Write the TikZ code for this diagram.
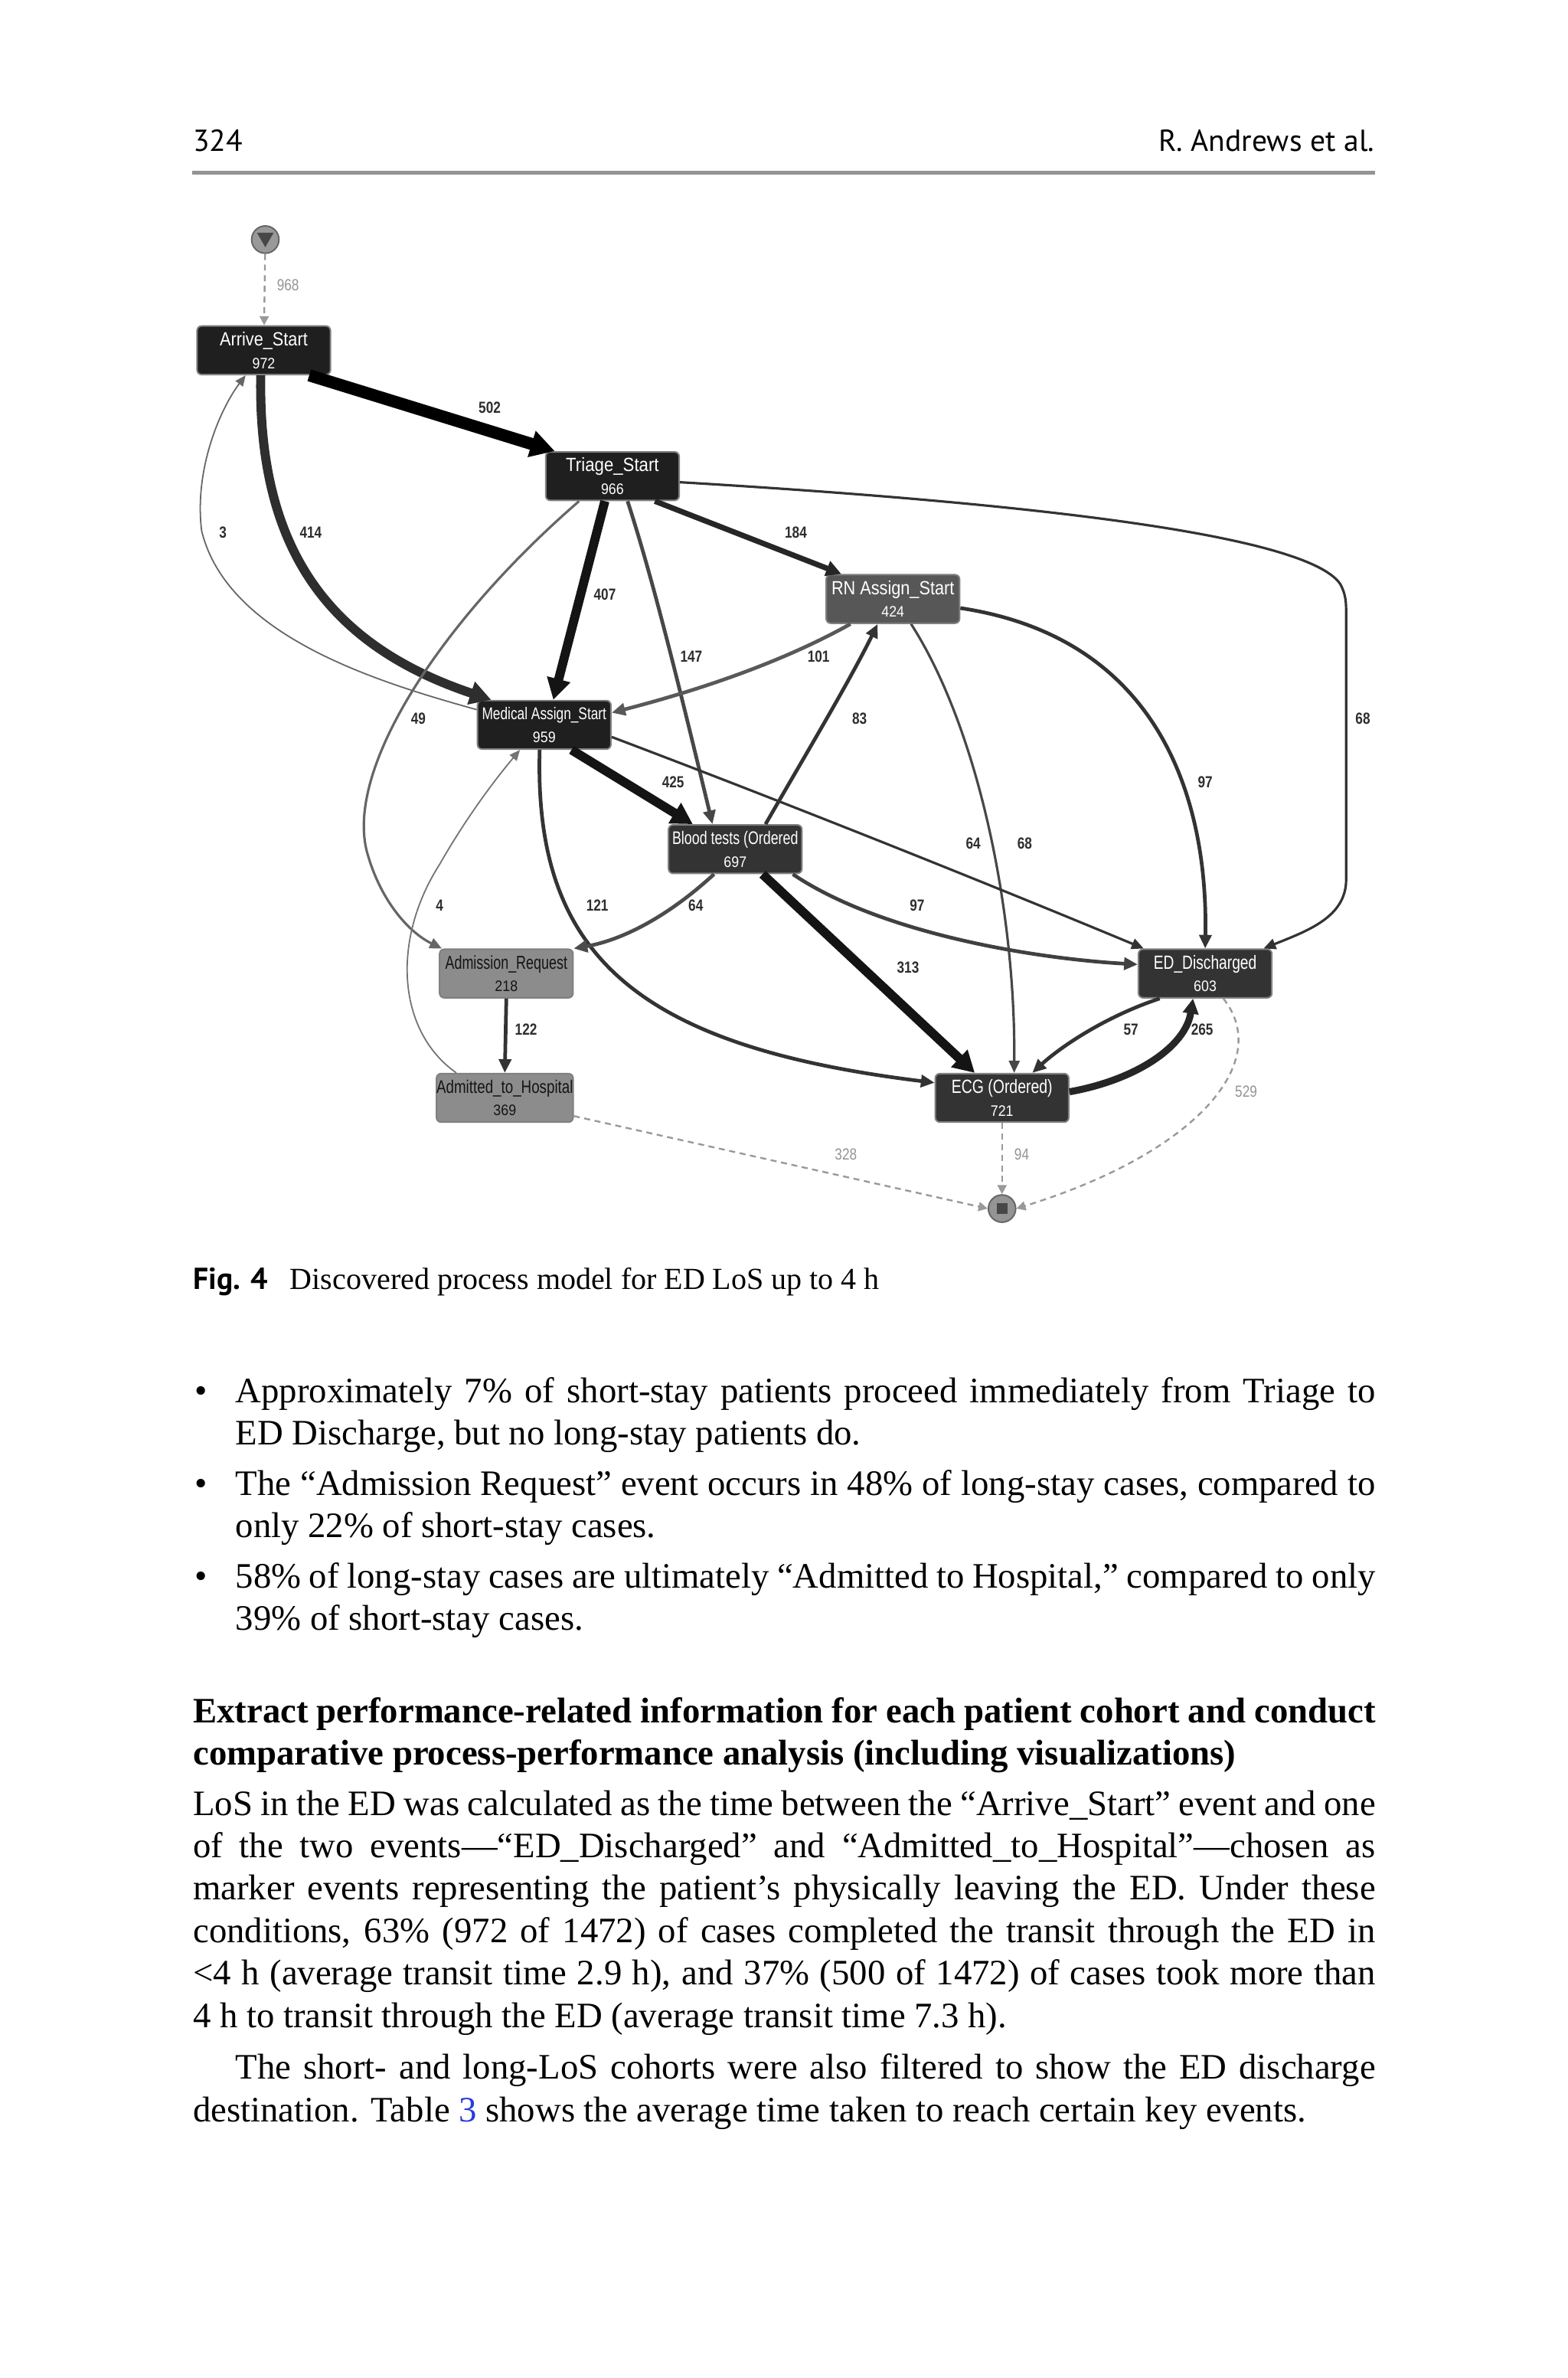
\documentclass[tikz,border=0pt]{standalone}
\usepackage{fontspec}
\setmainfont{Liberation Serif}
\newfontfamily\hdfont{PT Sans}
\newfontfamily\diagfont{Liberation Sans}
\usepackage{graphicx}
\usetikzlibrary{arrows.meta,calc}
\definecolor{linkblue}{RGB}{40,60,220}
\newcommand\nmtxt[3]{\scalebox{#1}[1]{\fontsize{#2}{#2}\selectfont #3}}
\newcommand\lbtxt[1]{\scalebox{0.82}[1]{#1}}
\begin{document}
\begin{tikzpicture}[x=0.5pt,y=-0.5pt,
 box/.style={rectangle, rounded corners=1.5pt, draw=black!50, line width=0.5pt, minimum width=44pt, minimum height=16pt, inner sep=0pt, align=center, text=white, font=\diagfont\fontsize{5}{7.5}\selectfont},
 darkbox/.style={box, fill=black!88},
 midbox/.style={box, fill=black!80},
 rnbox/.style={box, fill=black!66},
 lightbox/.style={box, fill=black!45, text=black!92},
 lab/.style={inner sep=0pt, font=\diagfont\bfseries\fontsize{5.3}{6}\selectfont, text=black!82},
 glab/.style={inner sep=0pt, font=\diagfont\fontsize{5.3}{6}\selectfont, text=black!42},
 e1/.style={line width=0.45pt, draw=black!60, -{Triangle[length=3.5pt,width=3pt]}},
 e2/.style={line width=0.8pt, draw=black!72, -{Triangle[length=4pt,width=3.5pt]}},
 e3/.style={line width=1.2pt, draw=black!80, -{Triangle[length=4.5pt,width=4pt]}},
 e4/.style={line width=1.8pt, draw=black!85, -{Triangle[length=5pt,width=5pt]}},
 e5/.style={line width=3pt, draw=black!92, -{Triangle[length=7pt,width=7.5pt]}},
 e6/.style={line width=4pt, draw=black, -{Triangle[length=8pt,width=8.5pt]}},
 dashedge/.style={line width=0.6pt, draw=black!40, dash pattern=on 2pt off 1.5pt, -{Triangle[length=3pt,width=3pt]}},
 txt/.style={anchor=base west, inner sep=0pt, font=\fontsize{11.8}{14}\selectfont},
 hdr/.style={inner sep=0pt, font=\hdfont\fontsize{10}{12}\selectfont}
]
\fill[white] (0,0) rectangle (1034.3,1568.2);
\useasboundingbox (0,0) rectangle (1034.3,1568.2);

% header
\node[hdr, anchor=base west] (pagenum) at (127,100) {324};
\node[hdr, anchor=base east] (authors) at (907,100) {R. Andrews et al.};
\draw[line width=1.25pt, black!42] (127,114) -- (907,114);

% process model nodes
\node[circle, draw=black!60, fill=black!40, line width=0.5pt, minimum size=9pt, inner sep=0pt] (start) at (175,158) {};
\fill[black!72] (169.5,153.5) -- (180.5,153.5) -- (175,163) -- cycle;
\node[darkbox] (arrive) at (174,231) {\nmtxt{0.87}{6.3}{Arrive\_Start}\\\nmtxt{0.9}{5}{972}};
\node[darkbox] (triage) at (404,314) {\nmtxt{0.89}{6.3}{Triage\_Start}\\\nmtxt{0.9}{5}{966}};
\node[rnbox] (rn) at (589,395) {\nmtxt{0.87}{6.3}{RN Assign\_Start}\\\nmtxt{0.9}{5}{424}};
\node[darkbox] (medical) at (359,478) {\nmtxt{0.78}{5.6}{Medical Assign\_Start}\\\nmtxt{0.9}{5}{959}};
\node[midbox] (blood) at (485,560) {\nmtxt{0.75}{6}{Blood tests (Ordered}\\\nmtxt{0.9}{5}{697}};
\node[lightbox] (admreq) at (334,642) {\nmtxt{0.73}{6.2}{Admission\_Request}\\\nmtxt{0.9}{5}{218}};
\node[midbox] (ed) at (795,642) {\nmtxt{0.77}{6.3}{ED\_Discharged}\\\nmtxt{0.9}{5}{603}};
\node[lightbox] (admitted) at (333,724) {\nmtxt{0.79}{6}{Admitted\_to\_Hospital}\\\nmtxt{0.9}{5}{369}};
\node[midbox] (ecg) at (661,724) {\nmtxt{0.78}{6.3}{ECG (Ordered)}\\\nmtxt{0.9}{5}{721}};
\node[circle, draw=black!60, fill=black!42, line width=0.5pt, minimum size=9pt, inner sep=0pt] (stop) at (661,797) {};
\fill[black!72] (657.5,793.5) rectangle (664.5,800.5);

% connectors
\draw[dashedge] (start) -- (arrive);
\draw[e6] ($(arrive.south)+(30,0)$) -- ($(triage.north)+(-38,0)$);
\draw[e5, draw=black!82] ($(arrive.south)+(-2,0)$) .. controls (170,360) and (215,425) .. ($(medical.north)+(-35,0)$);
\draw[e1] ($(medical.west)+(0,-10)$) .. controls (250,450) and (150,420) .. (133,350) .. controls (128,310) and (145,270) .. ($(arrive.south)+(-12,0)$);
\draw[e5] ($(triage.south)+(-5,0)$) -- ($(medical.north)+(6,0)$);
\draw[e4] ($(triage.south)+(28,0)$) -- ($(rn.north)+(-34,0)$);
\draw[e3, draw=black!72] ($(triage.south)+(10,0)$) .. controls (430,380) and (445,440) .. ($(blood.north)+(-15,0)$);
\draw[e2, draw=black!60] ($(triage.south)+(-22,0)$) .. controls (290,410) and (225,510) .. (243,565) .. controls (252,595) and (270,615) .. ($(admreq.north west)+(2,0)$);
\draw[e2, draw=black!80] ($(triage.east)+(0,4)$) .. controls (650,330) and (860,350) .. (884,385) .. controls (888,392) and (888,398) .. (888,405) -- (888,580) .. controls (888,605) and (862,614) .. ($(ed.north east)+(-6,0)$);
\draw[e3, draw=black!65] ($(rn.south)+(-28,0)$) .. controls (510,440) and (450,458) .. ($(medical.east)+(0,-8)$);
\draw[e3] ($(blood.north)+(20,0)$) .. controls (530,500) and (560,450) .. ($(rn.south)+(-10,0)$);
\draw[e2] ($(rn.south)+(12,0)$) .. controls (645,480) and (670,600) .. ($(ecg.north)+(8,0)$);
\draw[e3] ($(rn.east)+(0,6)$) .. controls (760,420) and (797,520) .. (ed.north);
\draw[e5] ($(medical.south)+(18,0)$) -- ($(blood.north)+(-28,0)$);
\draw[e2, draw=black!80] ($(medical.east)+(0,8)$) .. controls (520,530) and (650,582) .. ($(ed.north west)+(4,0)$);
\draw[e3] ($(medical.south)+(-3,0)$) .. controls (352,630) and (420,690) .. ($(ecg.west)+(0,-10)$);
\draw[e1, draw=black!55] ($(admitted.north)+(-32,0)$) .. controls (262,680) and (258,620) .. (290,570) .. controls (310,535) and (330,510) .. ($(medical.south)+(-16,0)$);
\draw[e3, draw=black!70] ($(blood.south)+(-14,0)$) .. controls (440,605) and (410,620) .. (admreq.north east);
\draw[e3, draw=black!75] ($(blood.south)+(38,0)$) .. controls (580,615) and (680,632) .. ($(ed.west)+(0,-6)$);
\draw[e5] ($(blood.south)+(18,0)$) -- ($(ecg.north)+(-18,0)$);
\draw[e3] (admreq.south) -- (admitted.north);
\draw[e3] ($(ed.south)+(-30,0)$) .. controls (730,670) and (700,690) .. ($(ecg.north)+(20,0)$);
\draw[e4, line width=2.3pt] ($(ecg.east)+(0,-4)$) .. controls (750,712) and (782,690) .. ($(ed.south)+(-8,0)$);
\draw[dashedge] (ecg.south) -- (stop.north);
\draw[dashedge] ($(admitted.east)+(0,12)$) -- (stop.west);
\draw[dashedge] ($(ed.south)+(12,0)$) .. controls (840,700) and (790,760) .. (stop.east);

% connector labels
\node[glab] (l968) at (190,188) {\lbtxt{968}};
\node[lab] (l502) at (323,269) {\lbtxt{502}};
\node[lab] (l3) at (147,351) {\lbtxt{3}};
\node[lab] (l414) at (205,351) {\lbtxt{414}};
\node[lab] (l184) at (525,351) {\lbtxt{184}};
\node[lab] (l407) at (399,392) {\lbtxt{407}};
\node[lab] (l147) at (456,433) {\lbtxt{147}};
\node[lab] (l101) at (540,433) {\lbtxt{101}};
\node[lab] (l49) at (276,474) {\lbtxt{49}};
\node[lab] (l83) at (567,474) {\lbtxt{83}};
\node[lab] (l68a) at (899,474) {\lbtxt{68}};
\node[lab] (l425) at (444,516) {\lbtxt{425}};
\node[lab] (l97a) at (795,516) {\lbtxt{97}};
\node[lab] (l64a) at (642,556) {\lbtxt{64}};
\node[lab] (l68b) at (676,556) {\lbtxt{68}};
\node[lab] (l4) at (290,597) {\lbtxt{4}};
\node[lab] (l121) at (394,597) {\lbtxt{121}};
\node[lab] (l64b) at (459,597) {\lbtxt{64}};
\node[lab] (l97b) at (605,597) {\lbtxt{97}};
\node[lab] (l313) at (599,638) {\lbtxt{313}};
\node[lab] (l122) at (347,679) {\lbtxt{122}};
\node[lab] (l57) at (746,679) {\lbtxt{57}};
\node[lab] (l265) at (793,679) {\lbtxt{265}};
\node[glab] (l529) at (822,720) {\lbtxt{529}};
\node[glab] (l328) at (558,761) {\lbtxt{328}};
\node[glab] (l94) at (674,761) {\lbtxt{94}};

% caption
\node[hdr, anchor=base west, font=\hdfont\bfseries\fontsize{10}{12}\selectfont] (figlab) at (127,850) {Fig. 4};
\node[anchor=base west, inner sep=0pt, font=\fontsize{10.1}{12}\selectfont] (figcap) at (191,850) {Discovered process model for ED LoS up to 4 h};

% bullets
\node[txt] (b1) at (128,925) {\textbullet};
\node[txt] (b1a) at (155,925) {\makebox[376pt][s]{Approximately 7\% of short-stay patients proceed immediately from Triage to}};
\node[txt] (b1b) at (155,953) {ED Discharge, but no long-stay patients do.};
\node[txt] (b2) at (128,986) {\textbullet};
\node[txt] (b2a) at (155,986) {\makebox[376pt][s]{The “Admission Request” event occurs in 48\% of long-stay cases, compared to}};
\node[txt] (b2b) at (155,1014) {only 22\% of short-stay cases.};
\node[txt] (b3) at (128,1047) {\textbullet};
\node[txt] (b3a) at (155,1047) {\makebox[376pt][s]{58\% of long-stay cases are ultimately “Admitted to Hospital,” compared to only}};
\node[txt] (b3b) at (155,1075) {39\% of short-stay cases.};

% heading
\node[txt] (h1) at (127,1136) {\makebox[390pt][s]{\bfseries Extract performance-related information for each patient cohort and conduct}};
\node[txt] (h2) at (127,1164) {\bfseries comparative process-performance analysis (including visualizations)};

% paragraph
\node[txt] (p1) at (127,1197) {\makebox[390pt][s]{LoS in the ED was calculated as the time between the “Arrive\_Start” event and one}};
\node[txt] (p2) at (127,1225) {\makebox[390pt][s]{of the two events—“ED\_Discharged” and “Admitted\_to\_Hospital”—chosen as}};
\node[txt] (p3) at (127,1253) {\makebox[390pt][s]{marker events representing the patient’s physically leaving the ED. Under these}};
\node[txt] (p4) at (127,1281) {\makebox[390pt][s]{conditions, 63\% (972 of 1472) of cases completed the transit through the ED in}};
\node[txt] (p5) at (127,1309) {\makebox[390pt][s]{<4 h (average transit time 2.9 h), and 37\% (500 of 1472) of cases took more than}};
\node[txt] (p6) at (127,1337) {4 h to transit through the ED (average transit time 7.3 h).};
\node[txt] (q1) at (155,1371) {\makebox[376pt][s]{The short- and long-LoS cohorts were also filtered to show the ED discharge}};
\node[txt] (q2) at (127,1399) {destination. Table {\color{linkblue}3} shows the average time taken to reach certain key events.};
\end{tikzpicture}
\end{document}
